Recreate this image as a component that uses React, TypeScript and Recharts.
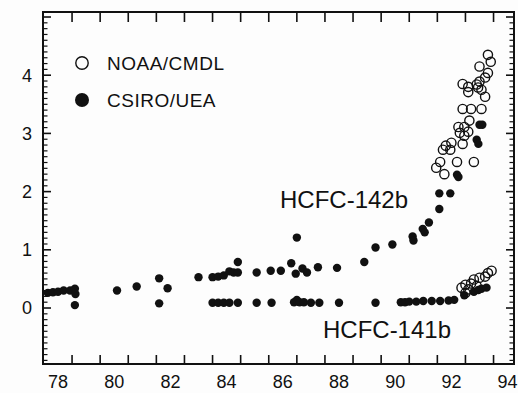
import React from 'react';
import { ScatterChart, Scatter, XAxis, YAxis, Legend, ReferenceDot, ReferenceArea } from 'recharts';

// Mixing ratios (ppt) by year, two networks, two compounds.
const csiro142b: [number, number][] = [
  [77.64, 0.26], [77.82, 0.27], [78.0, 0.28], [78.2, 0.3], [78.43, 0.3], [78.6, 0.33], [78.62, 0.24],
  [80.1, 0.3], [80.8, 0.37], [81.6, 0.51], [81.9, 0.34], [83.0, 0.53],
  [83.5, 0.53], [83.7, 0.54], [83.9, 0.56], [84.1, 0.63], [84.25, 0.61], [84.4, 0.61], [84.4, 0.79],
  [85.07, 0.61], [85.57, 0.64], [85.93, 0.64], [86.3, 0.77], [86.5, 1.21], [86.46, 0.59],
  [86.7, 0.68], [86.86, 0.61], [87.25, 0.7], [87.93, 0.69], [88.9, 0.79], [89.3, 1.04], [89.9, 1.09],
  [90.62, 1.23], [90.65, 1.16], [90.98, 1.36], [91.05, 1.3], [91.2, 1.47],
  [91.57, 1.7], [91.57, 1.97], [91.96, 1.97], [92.2, 2.29], [92.25, 2.25],
  [92.9, 2.89], [92.96, 2.82], [93.0, 3.15], [93.1, 3.15],
];

const csiro141b: [number, number][] = [
  [78.6, 0.05], [81.6, 0.08], [83.5, 0.09], [83.7, 0.09], [83.9, 0.09], [84.1, 0.09], [84.4, 0.09],
  [85.07, 0.09], [85.6, 0.09], [86.4, 0.1], [86.5, 0.14], [86.6, 0.1], [86.75, 0.1], [87.0, 0.09],
  [87.3, 0.09], [88.0, 0.09], [89.3, 0.09], [90.2, 0.1], [90.35, 0.1], [90.5, 0.11], [90.75, 0.11],
  [91.0, 0.12], [91.3, 0.12], [91.6, 0.12], [91.9, 0.13], [92.1, 0.14],
  [92.46, 0.22], [92.8, 0.28], [92.96, 0.31], [93.07, 0.33], [93.25, 0.35],
];

const noaa142b: [number, number][] = [
  [93.3, 4.35], [93.4, 4.23], [93.0, 4.15], [93.3, 4.04], [93.2, 3.96], [92.4, 3.85], [92.6, 3.8],
  [92.9, 3.84], [92.95, 3.79], [93.0, 3.89], [93.07, 3.75], [93.2, 3.63], [92.6, 3.71],
  [92.4, 3.42], [92.7, 3.42], [93.07, 3.42], [92.64, 3.22], [92.25, 3.11], [92.46, 3.11],
  [92.3, 3.01], [92.6, 3.03], [92.46, 2.96], [92.0, 2.84], [91.8, 2.79], [92.4, 2.82],
  [91.7, 2.72], [91.96, 2.72], [91.6, 2.51], [92.2, 2.51], [92.8, 2.51], [91.46, 2.41], [91.75, 2.3],
];

const noaa141b: [number, number][] = [
  [92.36, 0.35], [92.5, 0.4], [92.7, 0.42], [92.8, 0.49], [93.0, 0.52], [93.2, 0.54],
  [93.3, 0.6], [93.43, 0.64], [92.5, 0.26], [92.6, 0.32], [92.9, 0.38],
];

// Labelled years sit between the tick marks, which fall on half years.
const yearLabels = [78, 80, 82, 84, 86, 88, 90, 92, 94];
const yearTicks = [78.5, 79.5, 80.5, 81.5, 82.5, 83.5, 84.5, 85.5, 86.5, 87.5, 88.5, 89.5, 90.5, 91.5, 92.5, 93.5];
const pptLabels = [0, 1, 2, 3, 4];
// minor ticks every 0.1 ppt, integers drawn as major ticks
const pptTicks = Array.from({ length: 60 }, (_, i) => Math.round((-0.9 + i * 0.1) * 10) / 10);

const legendEntries = [
  { label: 'NOAA/CMDL', open: true },
  { label: 'CSIRO/UEA', open: false },
];

const X_DOMAIN: [number, number] = [77.466, 94.228];
const Y_DOMAIN: [number, number] = [-0.962, 5.086];

// plot frame in pixels (chart margins + axis sizes below)
const FRAME = { left: 43, right: 514, top: 12, bottom: 364 };

const INK = '#111111';
const FONT = '"Liberation Sans", Arial, Helvetica, sans-serif';

const toPoints = (rows: [number, number][]) => rows.map(([year, ppt]) => ({ year, ppt }));

const YearTick = (p: any) => {
  const v = p.payload.value;
  if (yearLabels.includes(v)) {
    return (
      <text x={p.x} y={p.y} dy="0.72em" textAnchor="middle" fontSize={18} fontFamily={FONT} fill={INK}>
        {v}
      </text>
    );
  }
  return (
    <g stroke={INK} strokeWidth={1.6}>
      <line x1={p.x} x2={p.x} y1={FRAME.bottom} y2={FRAME.bottom - 9} />
      <line x1={p.x} x2={p.x} y1={FRAME.top} y2={FRAME.top + 10} />
    </g>
  );
};

const PptTick = (p: any) => {
  const v = p.payload.value;
  const major = Math.abs(v - Math.round(v)) < 1e-6;
  const len = major ? 8 : 4.5;
  return (
    <g>
      <g stroke={INK} strokeWidth={major ? 1.6 : 1.2}>
        <line x1={FRAME.left} x2={FRAME.left + len} y1={p.y} y2={p.y} />
        <line x1={FRAME.right} x2={FRAME.right - len} y1={p.y} y2={p.y} />
      </g>
      {major && pptLabels.includes(Math.round(v)) && (
        <text x={p.x} y={p.y} dy="0.36em" textAnchor="end" fontSize={18} fontFamily={FONT} fill={INK}>
          {Math.round(v)}
        </text>
      )}
    </g>
  );
};

const FilledDot = (p: any) => <circle cx={p.cx} cy={p.cy} r={4.2} fill={INK} />;
const OpenDot = (p: any) => (
  <circle cx={p.cx} cy={p.cy} r={4.6} fill="none" stroke={INK} strokeWidth={1.4} />
);

const LegendBox = () => (
  <svg width={180} height={64} style={{ display: 'block' }}>
    {legendEntries.map((e, i) => {
      const cy = 13 + i * 37;
      return (
        <g key={e.label}>
          {e.open ? (
            <circle cx={12} cy={cy} r={6.2} fill="none" stroke={INK} strokeWidth={1.4} />
          ) : (
            <circle cx={12} cy={cy} r={7} fill={INK} />
          )}
          <text x={37} y={cy + 7} fontSize={19} fontFamily={FONT} fill={INK} letterSpacing={0.5}>
            {e.label}
          </text>
        </g>
      );
    })}
  </svg>
);

const seriesLabel = (text: string) => (props: any) => {
  const vb = props.viewBox || {};
  return (
    <text x={vb.x} y={vb.y} fontSize={24} fontFamily={FONT} fill={INK}>
      {text}
    </text>
  );
};

export default function App() {
  return (
    <div style={{ position: 'absolute', left: 0, top: 0, background: '#fdfdfd' }}>
      <ScatterChart width={518} height={393} margin={{ top: 12, right: 4, bottom: 0, left: 0 }}>
        <XAxis
          xAxisId="yr"
          type="number"
          dataKey="year"
          domain={X_DOMAIN}
          allowDataOverflow
          ticks={[...yearLabels, ...yearTicks].sort((a, b) => a - b)}
          interval={0}
          tickLine={false}
          tickSize={0}
          tickMargin={11}
          height={29}
          axisLine={{ stroke: INK, strokeWidth: 2 }}
          tick={YearTick}
        />
        <YAxis
          yAxisId="ppt"
          type="number"
          dataKey="ppt"
          domain={Y_DOMAIN}
          allowDataOverflow
          ticks={pptTicks}
          interval={0}
          width={43}
          tickLine={false}
          tickSize={0}
          tickMargin={11}
          axisLine={{ stroke: INK, strokeWidth: 2 }}
          tick={PptTick}
        />

        {/* closed plot frame */}
        <ReferenceArea
          xAxisId="yr"
          yAxisId="ppt"
          x1={X_DOMAIN[0]}
          x2={X_DOMAIN[1]}
          y1={Y_DOMAIN[0]}
          y2={Y_DOMAIN[1]}
          fill="none"
          stroke={INK}
          strokeWidth={2}
          ifOverflow="visible"
        />

        <Legend
          layout="vertical"
          align="center"
          verticalAlign="middle"
          content={LegendBox}
          wrapperStyle={{ left: 70, top: 50, width: 180, height: 64 }}
        />

        <Scatter name="CSIRO/UEA HCFC-142b" data={toPoints(csiro142b)} xAxisId="yr" yAxisId="ppt" shape={FilledDot} isAnimationActive={false} />
        <Scatter name="CSIRO/UEA HCFC-141b" data={toPoints(csiro141b)} xAxisId="yr" yAxisId="ppt" shape={FilledDot} isAnimationActive={false} />
        <Scatter name="NOAA/CMDL HCFC-142b" data={toPoints(noaa142b)} xAxisId="yr" yAxisId="ppt" shape={OpenDot} isAnimationActive={false} />
        <Scatter name="NOAA/CMDL HCFC-141b" data={toPoints(noaa141b)} xAxisId="yr" yAxisId="ppt" shape={OpenDot} isAnimationActive={false} />

        <ReferenceDot xAxisId="yr" yAxisId="ppt" x={85.9} y={1.718} r={0} fill="none" stroke="none" label={{ content: seriesLabel('HCFC-142b') }} />
        <ReferenceDot xAxisId="yr" yAxisId="ppt" x={87.43} y={-0.515} r={0} fill="none" stroke="none" label={{ content: seriesLabel('HCFC-141b') }} />
      </ScatterChart>
    </div>
  );
}
